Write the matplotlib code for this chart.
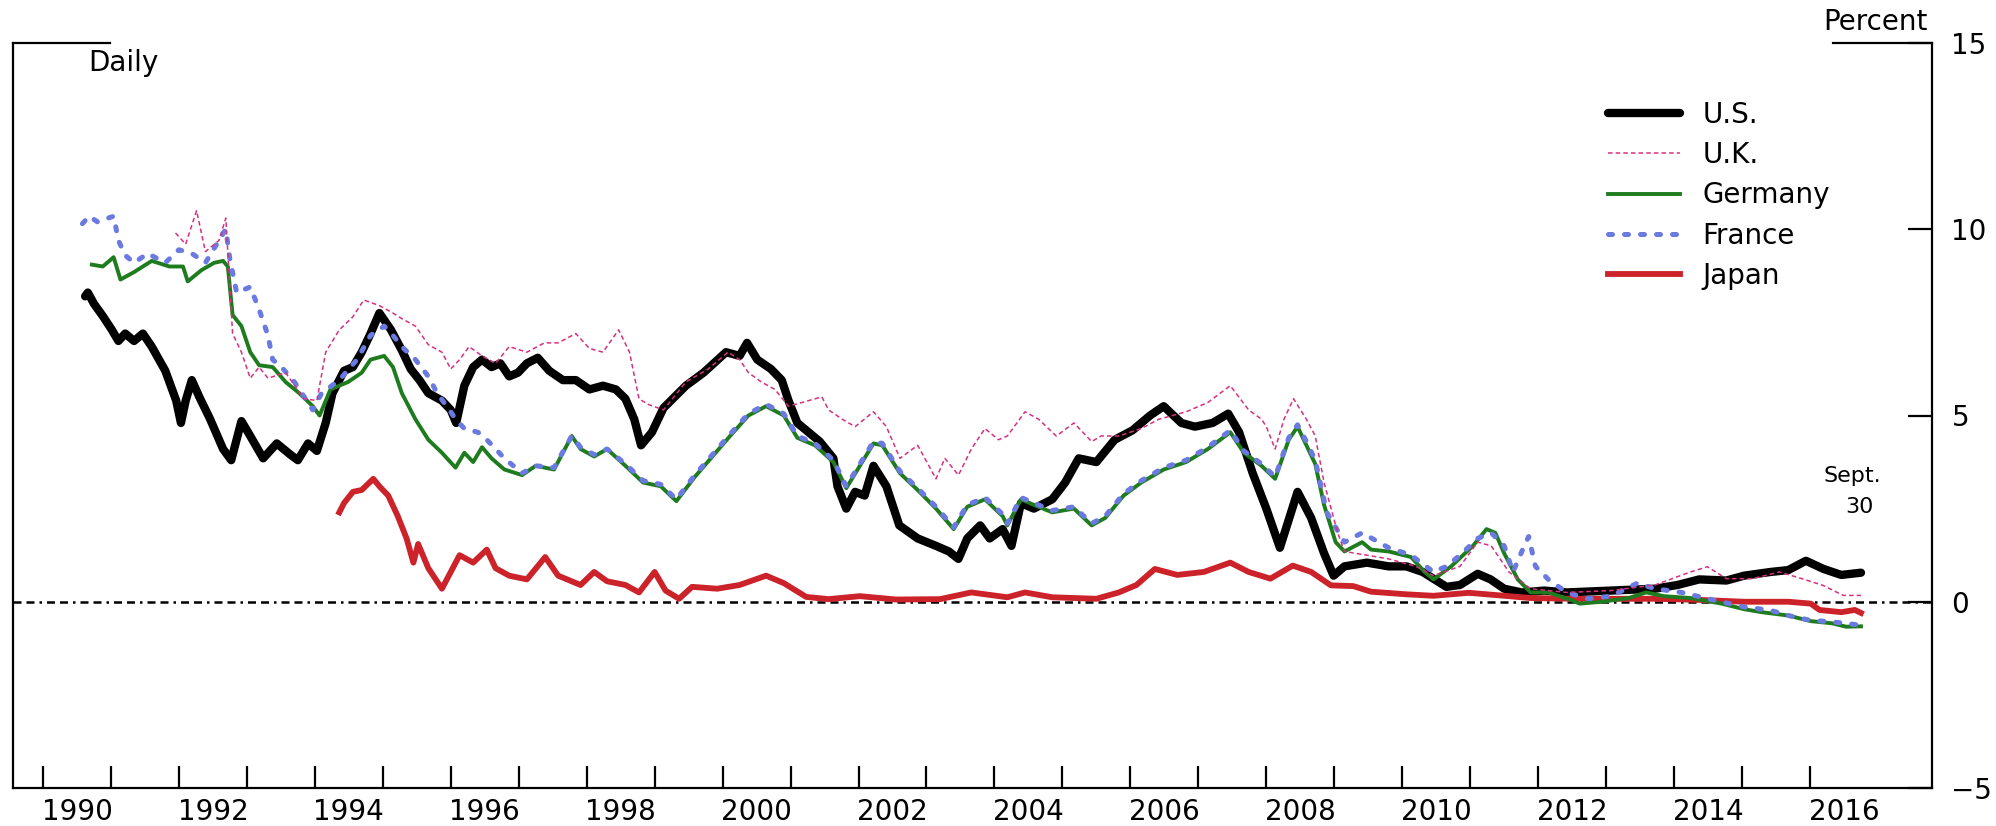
import matplotlib
matplotlib.use("Agg")
import matplotlib.pyplot as plt
from matplotlib.ticker import NullFormatter

plt.rcParams['font.family'] = ['DejaVu Sans']

# Daily two-year government bond yields, percent
us_years = [1990.62, 1990.66, 1990.75, 1990.88, 1991.01, 1991.11, 1991.21, 1991.34, 1991.47, 1991.60,
            1991.80, 1991.96, 1992.03, 1992.10, 1992.19, 1992.30, 1992.46, 1992.65, 1992.77, 1992.92,
            1993.05, 1993.24, 1993.44, 1993.64, 1993.75, 1993.90, 1994.03, 1994.16, 1994.26, 1994.43,
            1994.56, 1994.69, 1994.82, 1994.95, 1995.12, 1995.28, 1995.41, 1995.54, 1995.67, 1995.87,
            1996.00, 1996.08, 1996.20, 1996.33, 1996.46, 1996.60, 1996.73, 1996.86, 1996.99, 1997.12,
            1997.28, 1997.45, 1997.65, 1997.84, 1998.04, 1998.24, 1998.43, 1998.57, 1998.70, 1998.80,
            1998.96, 1999.13, 1999.46, 1999.72, 2000.05, 2000.25, 2000.36, 2000.51, 2000.71, 2000.87,
            2000.97, 2001.10, 2001.43, 2001.63, 2001.69, 2001.82, 2001.95, 2002.09, 2002.22, 2002.41,
            2002.60, 2002.87, 2003.14, 2003.33, 2003.47, 2003.60, 2003.79, 2003.93, 2004.12, 2004.25,
            2004.39, 2004.58, 2004.85, 2005.04, 2005.24, 2005.50, 2005.77, 2006.03, 2006.29, 2006.49,
            2006.75, 2006.95, 2007.21, 2007.44, 2007.60, 2007.80, 2008.00, 2008.20, 2008.46, 2008.66,
            2008.85, 2008.99, 2009.15, 2009.48, 2009.80, 2010.06, 2010.30, 2010.65, 2010.85, 2011.11,
            2011.30, 2011.50, 2011.76, 2012.09, 2012.42, 2013.07, 2013.72, 2014.05, 2014.37, 2014.77,
            2015.03, 2015.42, 2015.68, 2015.94, 2016.20, 2016.46, 2016.75]
us_vals = [8.20, 8.30, 8.00, 7.67, 7.31, 7.00, 7.20, 7.00, 7.20, 6.85,
           6.20, 5.40, 4.80, 5.40, 5.95, 5.50, 4.90, 4.10, 3.80, 4.85,
           4.45, 3.85, 4.25, 3.95, 3.80, 4.25, 4.05, 4.80, 5.60, 6.20,
           6.30, 6.70, 7.20, 7.75, 7.30, 6.75, 6.25, 5.95, 5.60, 5.40,
           5.15, 4.80, 5.80, 6.30, 6.50, 6.30, 6.40, 6.05, 6.15, 6.40,
           6.55, 6.20, 5.95, 5.95, 5.70, 5.80, 5.70, 5.45, 4.90, 4.20,
           4.55, 5.20, 5.80, 6.15, 6.70, 6.60, 6.95, 6.50, 6.25, 5.95,
           5.40, 4.80, 4.30, 3.85, 3.10, 2.50, 2.95, 2.85, 3.65, 3.10,
           2.05, 1.70, 1.50, 1.35, 1.15, 1.70, 2.05, 1.70, 1.95, 1.50,
           2.65, 2.50, 2.75, 3.20, 3.85, 3.75, 4.35, 4.60, 5.00, 5.25,
           4.80, 4.70, 4.80, 5.05, 4.55, 3.45, 2.50, 1.45, 2.95, 2.25,
           1.30, 0.70, 0.95, 1.05, 0.95, 0.95, 0.80, 0.40, 0.45, 0.75,
           0.60, 0.35, 0.25, 0.30, 0.25, 0.30, 0.35, 0.45, 0.60, 0.57,
           0.70, 0.80, 0.85, 1.10, 0.88, 0.72, 0.78]

uk_years = [1991.95, 1992.10, 1992.26, 1992.39, 1992.59, 1992.69, 1992.79, 1992.92, 1993.05, 1993.18,
            1993.31, 1993.57, 1993.84, 1994.03, 1994.16, 1994.36, 1994.56, 1994.72, 1994.95, 1995.15,
            1995.28, 1995.48, 1995.67, 1995.87, 1996.00, 1996.13, 1996.27, 1996.46, 1996.66, 1996.86,
            1997.12, 1997.38, 1997.58, 1997.84, 1998.04, 1998.24, 1998.47, 1998.63, 1998.77, 1998.90,
            1999.13, 1999.46, 1999.79, 2000.08, 2000.25, 2000.38, 2000.57, 2000.77, 2000.97, 2001.17,
            2001.46, 2001.56, 2001.76, 2001.95, 2002.22, 2002.41, 2002.61, 2002.87, 2003.14, 2003.27,
            2003.47, 2003.66, 2003.86, 2004.06, 2004.19, 2004.45, 2004.65, 2004.91, 2005.17, 2005.43,
            2005.57, 2005.83, 2006.16, 2006.42, 2006.82, 2007.14, 2007.47, 2007.74, 2007.93, 2008.00,
            2008.13, 2008.26, 2008.40, 2008.59, 2008.72, 2008.85, 2009.05, 2009.15, 2009.48, 2009.80,
            2010.20, 2010.46, 2010.85, 2011.11, 2011.31, 2011.57, 2011.89, 2012.42, 2013.07, 2013.72,
            2014.24, 2014.49, 2014.77, 2015.16, 2015.55, 2015.88, 2016.19, 2016.49, 2016.75]
uk_vals = [9.90, 9.60, 10.50, 9.40, 9.70, 10.30, 7.20, 6.70, 6.00, 6.30,
           6.00, 6.15, 5.45, 5.40, 6.70, 7.30, 7.65, 8.10, 7.95, 7.75,
           7.60, 7.40, 6.90, 6.70, 6.25, 6.50, 6.85, 6.60, 6.40, 6.85,
           6.70, 6.95, 6.95, 7.20, 6.80, 6.70, 7.30, 6.70, 5.45, 5.30,
           5.15, 5.90, 6.25, 6.70, 6.50, 6.15, 5.90, 5.70, 5.25, 5.35,
           5.50, 5.15, 4.90, 4.70, 5.10, 4.70, 3.85, 4.20, 3.30, 3.85,
           3.40, 4.10, 4.65, 4.35, 4.45, 5.10, 4.90, 4.45, 4.80, 4.30,
           4.45, 4.45, 4.65, 4.90, 5.10, 5.35, 5.80, 5.15, 4.90, 4.70,
           4.10, 4.90, 5.45, 4.90, 4.45, 3.20, 1.85, 1.35, 1.25, 1.15,
           0.95, 0.70, 0.95, 1.60, 1.50, 0.80, 0.35, 0.25, 0.30, 0.45,
           0.80, 0.94, 0.62, 0.62, 0.80, 0.62, 0.44, 0.17, 0.17]

de_years = [1990.72, 1990.88, 1991.04, 1991.14, 1991.34, 1991.60, 1991.86, 1992.06, 1992.13, 1992.33,
            1992.52, 1992.65, 1992.72, 1992.79, 1992.92, 1993.05, 1993.18, 1993.38, 1993.57, 1993.77,
            1993.97, 1994.07, 1994.23, 1994.49, 1994.69, 1994.82, 1995.02, 1995.15, 1995.28, 1995.48,
            1995.67, 1995.87, 1996.07, 1996.20, 1996.33, 1996.46, 1996.60, 1996.79, 1997.05, 1997.25,
            1997.52, 1997.78, 1997.91, 1998.11, 1998.30, 1998.57, 1998.83, 1999.09, 1999.32, 1999.59,
            1999.85, 2000.11, 2000.38, 2000.64, 2000.90, 2001.10, 2001.36, 2001.63, 2001.82, 2002.02,
            2002.22, 2002.35, 2002.61, 2002.87, 2003.14, 2003.40, 2003.60, 2003.86, 2004.12, 2004.19,
            2004.39, 2004.58, 2004.85, 2005.17, 2005.43, 2005.63, 2005.90, 2006.16, 2006.49, 2006.82,
            2007.14, 2007.47, 2007.67, 2007.93, 2008.13, 2008.33, 2008.46, 2008.59, 2008.72, 2008.85,
            2009.02, 2009.15, 2009.41, 2009.54, 2009.80, 2010.13, 2010.33, 2010.46, 2010.72, 2011.04,
            2011.24, 2011.37, 2011.50, 2011.70, 2011.89, 2012.15, 2012.48, 2012.61, 2012.94, 2013.33,
            2013.59, 2013.85, 2014.24, 2014.70, 2015.03, 2015.29, 2015.68, 2016.01, 2016.33, 2016.53,
            2016.75]
de_vals = [9.05, 9.00, 9.25, 8.65, 8.85, 9.15, 9.00, 9.00, 8.60, 8.90,
           9.10, 9.15, 9.00, 7.70, 7.40, 6.70, 6.35, 6.30, 5.90, 5.60,
           5.25, 5.00, 5.70, 5.90, 6.15, 6.50, 6.60, 6.30, 5.60, 4.90,
           4.35, 4.00, 3.60, 4.00, 3.75, 4.15, 3.85, 3.55, 3.40, 3.65,
           3.55, 4.45, 4.10, 3.90, 4.10, 3.65, 3.20, 3.10, 2.70, 3.35,
           3.90, 4.45, 5.00, 5.25, 5.00, 4.40, 4.20, 3.75, 3.05, 3.65,
           4.25, 4.20, 3.45, 3.00, 2.50, 1.95, 2.55, 2.75, 2.30, 2.05,
           2.75, 2.60, 2.40, 2.50, 2.05, 2.25, 2.85, 3.20, 3.55, 3.75,
           4.10, 4.55, 4.00, 3.65, 3.30, 4.35, 4.70, 4.20, 3.70, 2.60,
           1.60, 1.35, 1.60, 1.40, 1.35, 1.20, 0.80, 0.60, 0.95, 1.50,
           1.95, 1.85, 1.30, 0.60, 0.25, 0.25, 0.05, -0.05, 0.00, 0.10,
           0.25, 0.15, 0.10, -0.05, -0.20, -0.28, -0.37, -0.52, -0.58, -0.67,
           -0.66]

fr_years = [1990.58, 1990.68, 1990.80, 1990.88, 1991.04, 1991.11, 1991.21, 1991.34, 1991.54, 1991.80,
            1992.00, 1992.19, 1992.39, 1992.59, 1992.69, 1992.75, 1992.85, 1993.05, 1993.18, 1993.31,
            1993.38, 1993.51, 1993.70, 1993.97, 1994.10, 1994.36, 1994.62, 1994.82, 1995.02, 1995.15,
            1995.28, 1995.48, 1995.67, 1995.80, 1996.00, 1996.07, 1996.20, 1996.40, 1996.53, 1996.79,
            1997.05, 1997.25, 1997.52, 1997.78, 1997.91, 1998.11, 1998.30, 1998.57, 1998.83, 1999.09,
            1999.32, 1999.59, 1999.85, 2000.11, 2000.38, 2000.64, 2000.90, 2001.10, 2001.36, 2001.63,
            2001.82, 2002.02, 2002.22, 2002.35, 2002.61, 2002.87, 2003.14, 2003.40, 2003.60, 2003.86,
            2004.12, 2004.19, 2004.39, 2004.58, 2004.85, 2005.17, 2005.43, 2005.63, 2005.90, 2006.16,
            2006.49, 2006.82, 2007.14, 2007.47, 2007.67, 2007.93, 2008.13, 2008.33, 2008.46, 2008.59,
            2008.72, 2008.89, 2009.15, 2009.41, 2009.80, 2010.13, 2010.46, 2010.65, 2010.85, 2011.11,
            2011.31, 2011.50, 2011.63, 2011.76, 2011.86, 2011.96, 2012.15, 2012.42, 2012.74, 2013.07,
            2013.46, 2013.72, 2014.11, 2014.50, 2015.03, 2015.42, 2015.68, 2016.01, 2016.33, 2016.75]
fr_vals = [10.15, 10.35, 10.20, 10.25, 10.35, 9.70, 9.30, 9.10, 9.35, 9.10,
           9.45, 9.35, 9.10, 9.70, 10.00, 9.20, 8.30, 8.45, 7.85, 7.15,
           6.50, 6.30, 5.90, 5.15, 5.60, 5.95, 6.50, 7.15, 7.40, 7.15,
           6.85, 6.50, 6.05, 5.60, 5.10, 4.90, 4.65, 4.55, 4.35, 3.85,
           3.45, 3.65, 3.60, 4.45, 4.15, 3.95, 4.10, 3.70, 3.25, 3.15,
           2.75, 3.40, 3.95, 4.50, 5.05, 5.30, 5.05, 4.45, 4.25, 3.80,
           3.10, 3.70, 4.30, 4.25, 3.50, 3.05, 2.55, 2.00, 2.60, 2.80,
           2.35, 2.10, 2.80, 2.65, 2.45, 2.55, 2.10, 2.30, 2.90, 3.25,
           3.60, 3.80, 4.15, 4.60, 4.05, 3.70, 3.35, 4.40, 4.75, 4.30,
           3.80, 2.40, 1.60, 1.85, 1.45, 1.25, 0.80, 0.95, 1.25, 1.70,
           1.85, 1.50, 0.80, 1.35, 1.75, 0.95, 0.60, 0.25, 0.08, 0.15,
           0.50, 0.35, 0.25, 0.08, -0.14, -0.23, -0.37, -0.50, -0.54, -0.63]

jp_years = [1994.36, 1994.43, 1994.56, 1994.69, 1994.86, 1994.95, 1995.08, 1995.22, 1995.35, 1995.45,
            1995.52, 1995.67, 1995.87, 1996.00, 1996.13, 1996.33, 1996.53, 1996.66, 1996.86, 1997.12,
            1997.39, 1997.58, 1997.91, 1998.11, 1998.30, 1998.57, 1998.77, 1999.00, 1999.16, 1999.36,
            1999.55, 1999.92, 2000.25, 2000.64, 2000.90, 2001.23, 2001.56, 2002.02, 2002.55, 2003.20,
            2003.66, 2004.19, 2004.45, 2004.85, 2005.50, 2005.83, 2006.09, 2006.36, 2006.69, 2007.08,
            2007.47, 2007.74, 2008.06, 2008.39, 2008.66, 2008.95, 2009.28, 2009.54, 2010.06, 2010.46,
            2010.98, 2011.44, 2011.89, 2012.55, 2013.20, 2013.72, 2014.37, 2015.03, 2015.68, 2016.01,
            2016.14, 2016.46, 2016.66, 2016.75]
jp_vals = [2.40, 2.65, 2.95, 3.00, 3.30, 3.10, 2.85, 2.30, 1.70, 1.05,
           1.55, 0.90, 0.35, 0.80, 1.25, 1.05, 1.40, 0.90, 0.70, 0.60,
           1.20, 0.70, 0.45, 0.80, 0.55, 0.45, 0.25, 0.80, 0.30, 0.08,
           0.40, 0.35, 0.45, 0.70, 0.50, 0.13, 0.07, 0.15, 0.06, 0.07,
           0.25, 0.12, 0.25, 0.12, 0.08, 0.25, 0.45, 0.88, 0.72, 0.80,
           1.05, 0.80, 0.62, 0.97, 0.80, 0.44, 0.42, 0.27, 0.20, 0.16,
           0.24, 0.17, 0.10, 0.08, 0.08, 0.08, 0.05, 0.00, 0.00, -0.05,
           -0.22, -0.28, -0.22, -0.30]

series_labels = ['U.S.', 'U.K.', 'Germany', 'France', 'Japan']
y_ticks = [-5, 0, 5, 10, 15]
year_ticks = list(range(1990, 2017))
year_labels = [str(y) for y in range(1990, 2017, 2)]

W, H = 1996, 826
fig = plt.figure(figsize=(W / 100, H / 100), dpi=100)
ax = fig.add_axes([13 / W, 38 / H, 1919 / W, 745 / H])
ax.set_xlim(1989.559, 2017.795)
ax.set_ylim(-5, 15)

# zero reference line
ax.axhline(0, color='black', lw=1.8, linestyle=(0, (3.2, 2.0, 3.2, 2.0, 1.0, 2.0)), zorder=1)

l_us, = ax.plot(us_years, us_vals, color='black', lw=6.0, solid_joinstyle='round',
                solid_capstyle='round', zorder=3)
l_jp, = ax.plot(jp_years, jp_vals, color='#cc2229', lw=4.2, solid_joinstyle='round', zorder=4)
l_de, = ax.plot(de_years, de_vals, color='#1e7b1e', lw=2.8, solid_joinstyle='round', zorder=5)
l_fr, = ax.plot(fr_years, fr_vals, color='#6a7ae0', lw=3.6, linestyle=(0, (0.8, 2.4)),
                dash_capstyle='round', zorder=6)
l_uk, = ax.plot(uk_years, uk_vals, color='#d8307f', lw=1.1, linestyle=(0, (3, 2)), zorder=7)

# frame: full left/right/bottom, short stubs at the top corners
for side in ('left', 'right', 'bottom'):
    ax.spines[side].set_linewidth(1.6)
ax.spines['top'].set_visible(False)
ax.plot([0, 0.0505], [1, 1], transform=ax.transAxes, color='black', lw=1.6,
        clip_on=False, solid_capstyle='projecting')
ax.plot([0.9484, 1], [1, 1], transform=ax.transAxes, color='black', lw=1.6,
        clip_on=False, solid_capstyle='projecting')

# y axis on the right
ax.yaxis.tick_right()
ax.set_yticks(y_ticks)
ax.set_yticklabels([str(v).replace('-', '\u2212') for v in y_ticks])
ax.tick_params(axis='y', which='major', direction='in', length=17, width=1.6, pad=14,
               labelsize=20, right=True, left=False)

# x axis: year boundaries as ticks, labels centred within the year
ax.set_xticks(year_ticks)
ax.xaxis.set_major_formatter(NullFormatter())
ax.set_xticks([int(y) + 0.5 for y in year_labels], minor=True)
ax.set_xticklabels(year_labels, minor=True)
ax.tick_params(axis='x', which='major', direction='in', length=16, width=1.6)
ax.tick_params(axis='x', which='minor', length=0, pad=7, labelsize=20)

leg = ax.legend([l_us, l_uk, l_de, l_fr, l_jp], series_labels, loc='upper left',
                bbox_to_anchor=(1608 / W, 1 - 101 / H), bbox_transform=fig.transFigure,
                frameon=False, fontsize=20, handlelength=2.6, handletextpad=0.8,
                labelspacing=0.44, borderpad=0, borderaxespad=0)

ax.text(0.039, 0.973, 'Daily', transform=ax.transAxes, fontsize=20, ha='left', va='center')
fig.text(1928 / W, 1 - 22 / H, 'Percent', fontsize=20, ha='right', va='center')
ax.text(2016.62, 3.38, 'Sept.', fontsize=16, ha='center', va='center')
ax.text(2016.72, 2.54, '30', fontsize=16, ha='center', va='center')

fig.savefig('out.png', dpi=100)
